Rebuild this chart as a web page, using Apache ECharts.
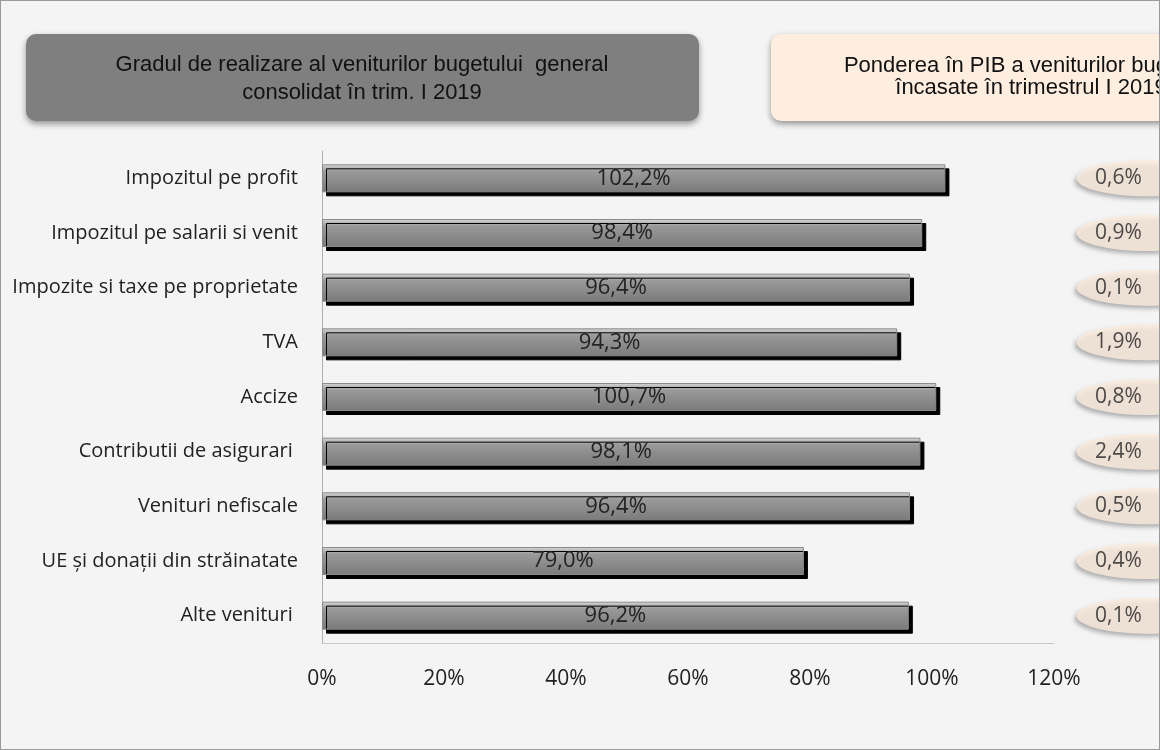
<!DOCTYPE html>
<html><head><meta charset="utf-8">
<script src="https://cdn.jsdelivr.net/npm/echarts@6/dist/echarts.min.js"></script>
<style>html,body{margin:0;padding:0;background:#f4f4f4}#c{width:1160px;height:750px;box-sizing:border-box;border:1px solid #9a9a9a}</style>
</head><body><div id="c"></div>
<script>
const categories = ["Impozitul pe profit","Impozitul pe salarii si venit","Impozite si taxe pe proprietate","TVA","Accize","Contributii de asigurari ","Venituri nefiscale","UE și donații din străinatate","Alte venituri "];
const realizare = [102.2,98.4,96.4,94.3,100.7,98.1,96.4,79.0,96.2];
const pondere = [0.6,0.9,0.1,1.9,0.8,2.4,0.5,0.4,0.1];
const xTicks = [0,20,40,60,80,100,120];
const titleLeft = "Gradul de realizare al veniturilor bugetului  general\nconsolidat în trim. I 2019";
const titleRight = "Ponderea în PIB a veniturilor bugetare\nîncasate în trimestrul I 2019";

const chart = echarts.init(document.getElementById('c'));
const cats = categories.slice().reverse();
const vals = realizare.slice().reverse();
const pond = pondere.slice().reverse();
const font = "'Open Sans', 'DejaVu Sans', sans-serif";
const afont = "'Liberation Sans', Arial, sans-serif";
chart.setOption({
  backgroundColor:'#f4f4f4',
  animation:false,
  grid:[{left:321,top:150,width:732,height:492},{left:1128,top:150,width:140,height:492}],
  xAxis:[{type:'value',min:0,max:120,interval:20,gridIndex:0,
    axisLine:{show:true,lineStyle:{color:'#c8c8c8'}},axisTick:{show:false},splitLine:{show:false},
    axisLabel:{formatter:v=>v+'%',color:'#222',fontSize:21,fontFamily:font,margin:26}},
    {type:'value',min:0,max:1,gridIndex:1,show:false}],
  yAxis:[{type:'category',data:cats,gridIndex:0,
    axisLine:{show:true,lineStyle:{color:'#b0b0b0'}},axisTick:{show:false},
    axisLabel:{color:'#222',fontSize:20,fontFamily:font,margin:24}},
    {type:'category',data:cats,gridIndex:1,show:false}],
  series:[{type:'bar',data:vals,barWidth:28,
    itemStyle:{color:new echarts.graphic.LinearGradient(0,0,0,1,[{offset:0,color:'#d8d8d8'},{offset:0.25,color:'#9a9a9a'},{offset:1,color:'#7a7a7a'}]),
      borderColor:'#8a8a8a',borderWidth:1,shadowColor:'#000',shadowOffsetX:4,shadowOffsetY:4,shadowBlur:0},
    label:{show:true,position:'inside',formatter:p=>p.value.toFixed(1).replace('.',',')+'%',color:'#222',fontSize:22,fontFamily:font}},
   {type:'scatter',xAxisIndex:1,yAxisIndex:1,data:pond.map((v,i)=>[0.5,i,v]),
    symbol:'path://M0,50 A100,50 0 1,1 200,50 A100,50 0 1,1 0,50 Z',symbolSize:[140,36],
    itemStyle:{color:'#fdeee0',shadowColor:'rgba(0,0,0,0.35)',shadowBlur:4,shadowOffsetX:-2,shadowOffsetY:3},
    label:{show:true,position:'inside',offset:[-28,0],formatter:p=>p.value[2].toFixed(1).replace('.',',')+'%',color:'#222',fontSize:21,fontFamily:font}}],
  graphic:[
    {type:'rect',shape:{x:25,y:33,width:673,height:87,r:10},style:{fill:'#7f7f7f',shadowColor:'rgba(0,0,0,0.4)',shadowBlur:6,shadowOffsetY:3}},
    {type:'text',x:361,y:78,style:{text:titleLeft,fill:'#111',font:"22px "+afont,align:'center',verticalAlign:'middle',lineHeight:28}},
    {type:'rect',shape:{x:770,y:33,width:500,height:87,r:10},style:{fill:'#fdeee0',shadowColor:'rgba(0,0,0,0.4)',shadowBlur:6,shadowOffsetY:3}},
    {type:'text',x:1030,y:76,style:{text:titleRight,fill:'#111',font:"22px "+afont,align:'center',verticalAlign:'middle',lineHeight:22}}
  ]
});
</script></body></html>
